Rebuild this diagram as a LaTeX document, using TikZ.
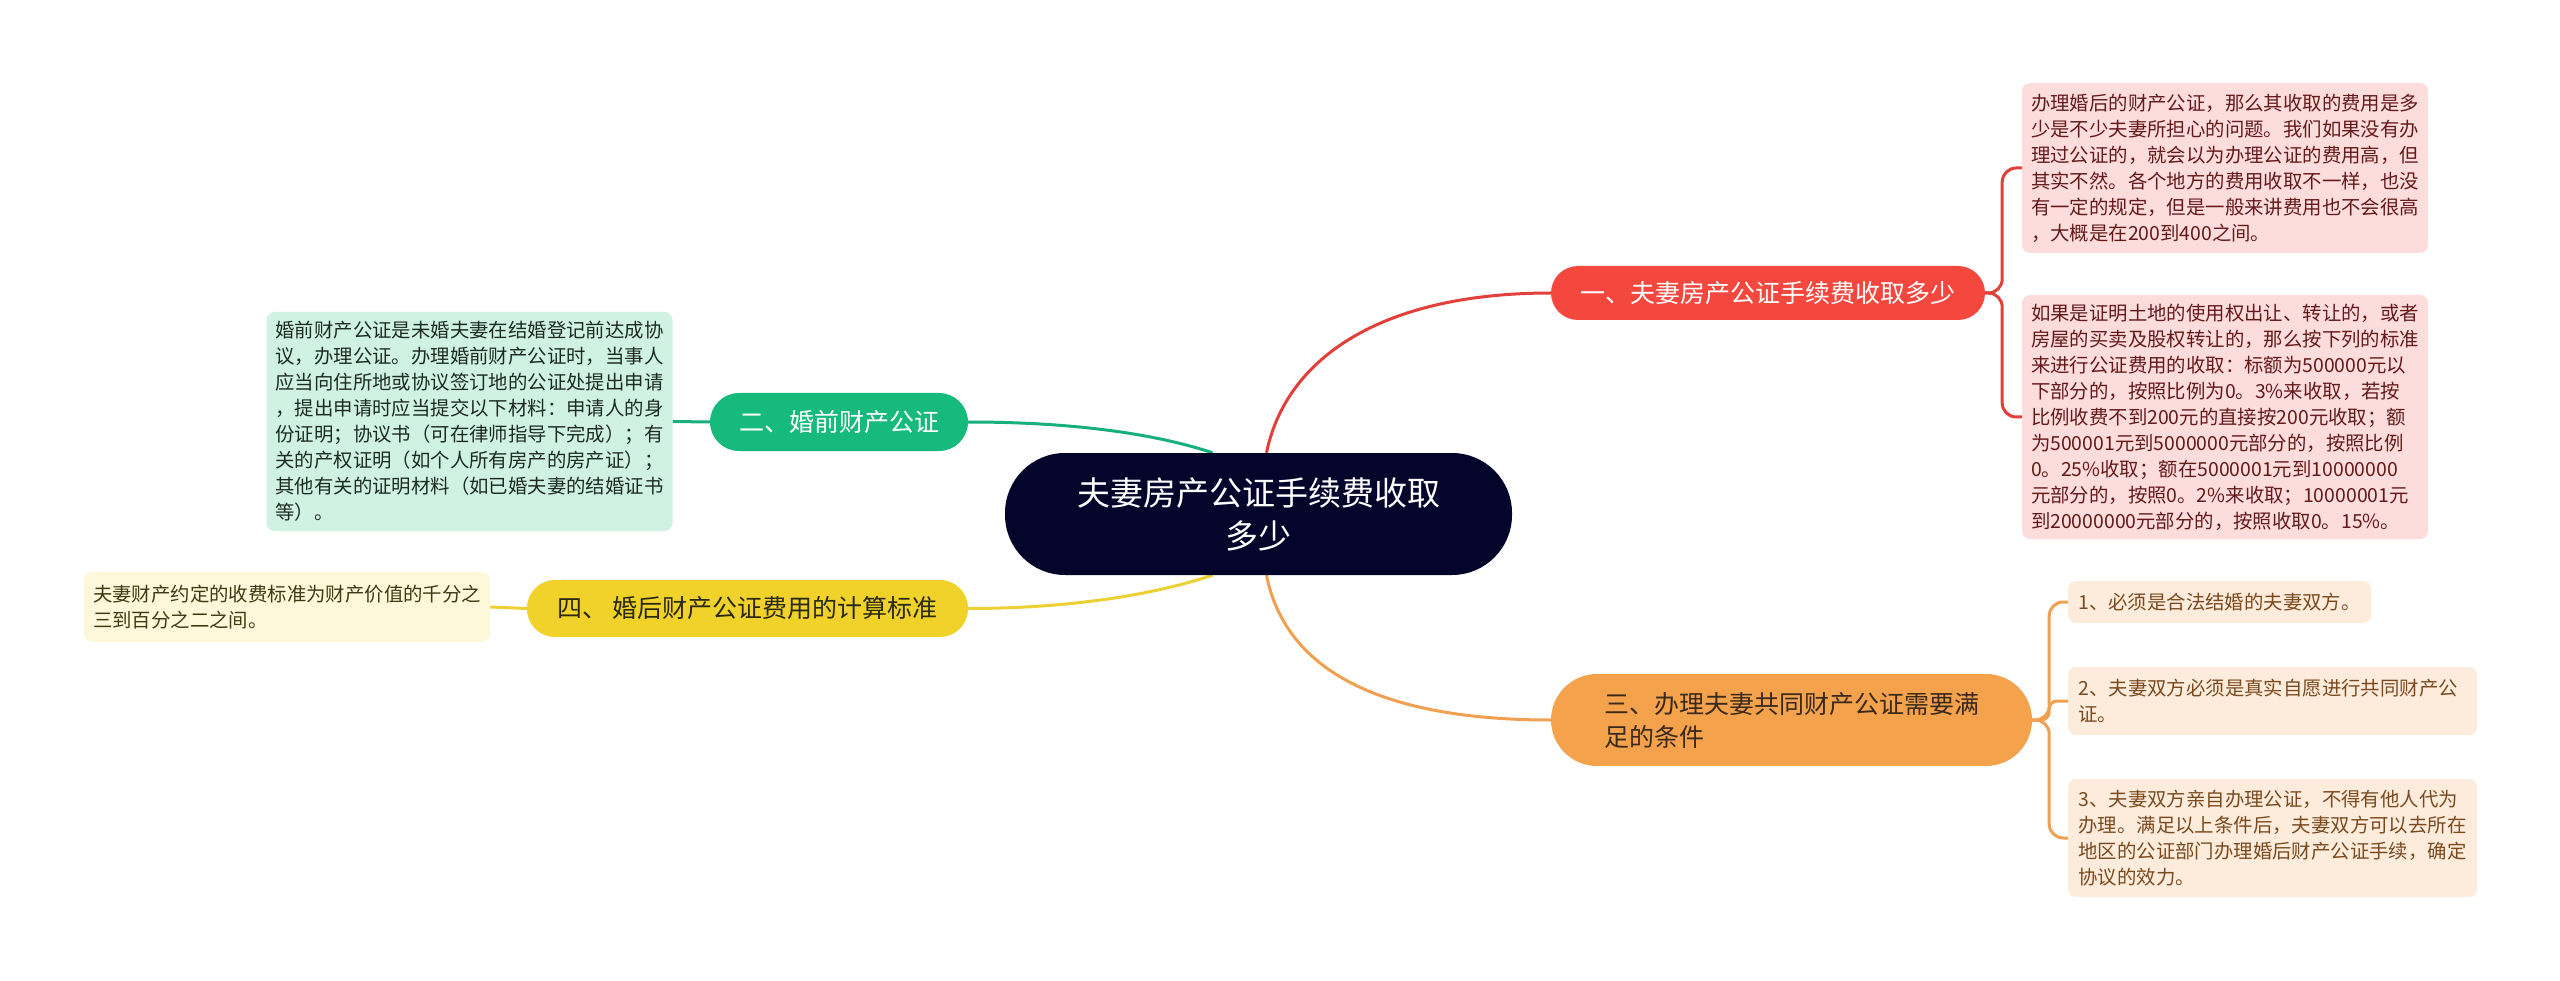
\documentclass[tikz,border=0pt]{standalone}
\usepackage{fontspec}
\setmainfont{Noto Sans CJK SC}
\pgfdeclarelayer{bg}
\pgfdeclarelayer{lines}
\pgfsetlayers{bg,lines,main}
\definecolor{cdark}{HTML}{03052A}
\definecolor{cred}{HTML}{F4483F}
\definecolor{credline}{HTML}{E2403A}
\definecolor{cpink}{HTML}{FDDCDC}
\definecolor{cpinktxt}{HTML}{651A1A}
\definecolor{cgreen}{HTML}{15BA7C}
\definecolor{cgreenline}{HTML}{17B07A}
\definecolor{cmint}{HTML}{CFF2E3}
\definecolor{cminttxt}{HTML}{1E2B25}
\definecolor{cyellow}{HTML}{F0D22A}
\definecolor{cyellowline}{HTML}{EDD033}
\definecolor{ccream}{HTML}{FDF8DA}
\definecolor{ccreamtxt}{HTML}{3F3A12}
\definecolor{corange}{HTML}{F5A24D}
\definecolor{corangeline}{HTML}{F0A050}
\definecolor{cpeach}{HTML}{FDEBDC}
\definecolor{cpeachtxt}{HTML}{7A4A1E}
\definecolor{cthreetxt}{HTML}{3A2A1A}
\definecolor{cfourtxt}{HTML}{2A2A14}
\tikzset{
  rootnode/.style={fill=cdark, text=white, rounded corners=60pt, inner sep=0pt,
    align=center, font=\fontsize{33}{43}\selectfont},
  mainnode/.style={inner sep=0pt, align=left, font=\fontsize{25}{33}\selectfont},
  leafbox/.style={rounded corners=8pt, inner xsep=9pt, inner ysep=0pt, align=left,
    text width=388pt, font=\fontsize{19.4}{26}\selectfont},
  link/.style={line width=3pt},
}
\begin{document}
\begin{tikzpicture}[x=1pt,y=-1pt]
\begin{pgfonlayer}{bg}
\fill[white] (0,0) rectangle (2560,981);
\end{pgfonlayer}
\useasboundingbox (0,0) rectangle (2560,981);

% root
\node[rootnode, minimum width=507pt, minimum height=122pt] (c) at (1258.5,514)
  {夫妻房产公证手续费收取\\多少};

% main topics
\node[mainnode, fill=cred, text=white, rounded corners=27pt, minimum width=434pt, minimum height=54pt]
  (n1) at (1768,293) {一、夫妻房产公证手续费收取多少};
\node[mainnode, fill=cgreen, text=white, rounded corners=29pt, minimum width=258pt, minimum height=58pt]
  (n2) at (839,422) {二、婚前财产公证};
\node[mainnode, fill=corange, text=cthreetxt, rounded corners=46pt, minimum width=481pt, minimum height=92pt]
  (n3) at (1791.5,720) {三、办理夫妻共同财产公证需要满\\足的条件};
\node[mainnode, fill=cyellow, text=cfourtxt, rounded corners=28pt, minimum width=441pt, minimum height=57pt]
  (n4) at (747.5,608.5) {四、\ 婚后财产公证费用的计算标准};

% leaves of 一
\node[leafbox, fill=cpink, text=cpinktxt, minimum height=170pt] (p1) at (2225,168)
  {办理婚后的财产公证，那么其收取的费用是多\\
   少是不少夫妻所担心的问题。我们如果没有办\\
   理过公证的，就会以为办理公证的费用高，但\\
   其实不然。各个地方的费用收取不一样，也没\\
   有一定的规定，但是一般来讲费用也不会很高\\
   ，大概是在200到400之间。};
\node[leafbox, fill=cpink, text=cpinktxt, minimum height=244pt] (p2) at (2225,417)
  {如果是证明土地的使用权出让、转让的，或者\\
   房屋的买卖及股权转让的，那么按下列的标准\\
   来进行公证费用的收取：标额为500000元以\\
   下部分的，按照比例为0。3\%来收取，若按\\
   比例收费不到200元的直接按200元收取；额\\
   为500001元到5000000元部分的，按照比例\\
   0。25\%收取；额在5000001元到10000000\\
   元部分的，按照0。2\%来收取；10000001元\\
   到20000000元部分的，按照收取0。15\%。};

% leaf of 二
\node[leafbox, fill=cmint, text=cminttxt, minimum height=219pt] (g1) at (469.5,421.5)
  {婚前财产公证是未婚夫妻在结婚登记前达成协\\
   议，办理公证。办理婚前财产公证时，当事人\\
   应当向住所地或协议签订地的公证处提出申请\\
   ，提出申请时应当提交以下材料：申请人的身\\
   份证明；协议书（可在律师指导下完成）；有\\
   关的产权证明（如个人所有房产的房产证）；\\
   其他有关的证明材料（如已婚夫妻的结婚证书\\
   等）。};

% leaf of 四
\node[leafbox, fill=ccream, text=ccreamtxt, minimum height=70pt] (y1) at (287,607)
  {夫妻财产约定的收费标准为财产价值的千分之\\
   三到百分之二之间。};

% leaves of 三
\node[leafbox, text width=, inner xsep=10pt, fill=cpeach, text=cpeachtxt,
  minimum width=303pt, minimum height=42pt] (o1) at (2219.5,602)
  {1、必须是合法结婚的夫妻双方。};
\node[leafbox, inner xsep=10.5pt, fill=cpeach, text=cpeachtxt, minimum height=68pt] (o2) at (2272.5,701)
  {2、夫妻双方必须是真实自愿进行共同财产公\\
   证。};
\node[leafbox, inner xsep=10.5pt, fill=cpeach, text=cpeachtxt, minimum height=118pt] (o3) at (2272.5,838)
  {3、夫妻双方亲自办理公证，不得有他人代为\\
   办理。满足以上条件后，夫妻双方可以去所在\\
   地区的公证部门办理婚后财产公证手续，确定\\
   协议的效力。};

% connectors
\begin{pgfonlayer}{lines}
\draw[link, credline] ([xshift=8pt]c.north) .. controls +(19,-93) and +(-172,0) .. (n1.west);
\draw[link, corangeline] ([xshift=8pt]c.south) .. controls +(19,95) and +(-171,0) .. (n3.west);
\draw[link, cgreenline] ([xshift=-46pt]c.north) .. controls +(-60,-20) and +(100,0) .. (n2.east);
\draw[link, cyellowline] ([xshift=-46pt]c.south) .. controls +(-60,20) and +(100,0) .. (n4.east);

\draw[link, cgreenline] (n2.west) -- (g1.east);
\draw[link, cyellowline] (n4.west) -- (y1.east);

\draw[link, credline, rounded corners=14pt] (n1.east) -- ++(17,0) |- (p1.west);
\draw[link, credline, rounded corners=14pt] (n1.east) -- ++(17,0) |- (p2.west);

\draw[link, corangeline, rounded corners=14pt] (n3.east) -- ++(17,0) |- (o1.west);
\draw[link, corangeline, rounded corners=8pt] (n3.east) -- ++(17,0) |- (o2.west);
\draw[link, corangeline, rounded corners=14pt] (n3.east) -- ++(17,0) |- (o3.west);
\end{pgfonlayer}
\end{tikzpicture}
\end{document}
